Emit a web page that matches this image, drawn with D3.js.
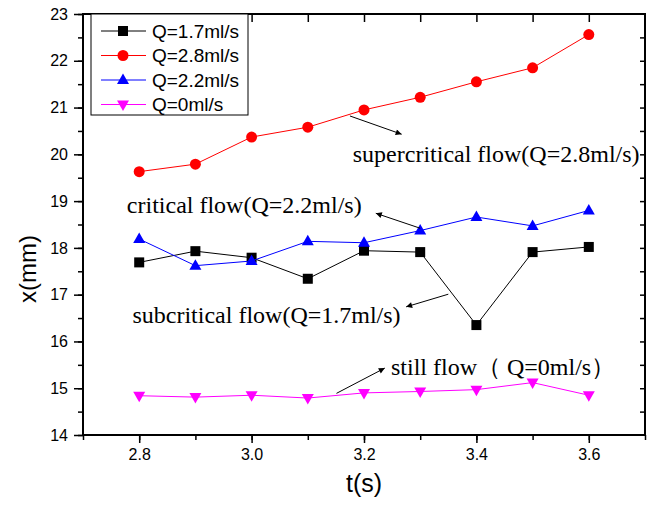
<!DOCTYPE html>
<html>
<head>
<meta charset="utf-8">
<script src="https://cdn.jsdelivr.net/npm/d3@7"></script>
<style>
  body { margin: 0; background: #fff; }
  svg { display: block; }
</style>
</head>
<body>
<svg id="chart" width="655" height="506"></svg>
<script>
// time axis (s)
const times = [2.8, 2.9, 3.0, 3.1, 3.2, 3.3, 3.4, 3.5, 3.6];

// x(mm) per flow rate
const q17 = [17.69, 17.93, 17.79, 17.34, 17.94, 17.91, 16.35, 17.91, 18.02];
const q28 = [19.63, 19.79, 20.37, 20.58, 20.95, 21.22, 21.55, 21.85, 22.56];
const q22 = [18.19, 17.62, 17.72, 18.14, 18.11, 18.37, 18.66, 18.47, 18.80];
const q00 = [14.84, 14.81, 14.85, 14.79, 14.90, 14.93, 14.97, 15.12, 14.85];

const seriesNames = ["Q=1.7ml/s", "Q=2.8ml/s", "Q=2.2ml/s", "Q=0ml/s"];
const seriesColors = ["#000000", "#ff0000", "#0000ff", "#ff00ff"];
const seriesShapes = ["square", "circle", "up", "down"];

const xTickLabels = [2.8, 3.0, 3.2, 3.4, 3.6];
const yTickLabels = [14, 15, 16, 17, 18, 19, 20, 21, 22, 23];

// annotation labels and arrows, in data units [t, x]
const notes = [
  { text: "supercritical flow(Q=2.8ml/s)", at: [3.180, 19.83], from: [3.175, 20.82], to: [3.267, 20.43] },
  { text: "critical flow(Q=2.2ml/s)", at: [2.778, 18.75], from: [3.300, 18.42], to: [3.221, 18.74] },
  { text: "subcritical flow(Q=1.7ml/s)", at: [2.788, 16.40], from: [3.350, 17.01], to: [3.275, 16.74] },
  { text: "still flow\uFF08 Q=0ml/s\uFF09", at: [3.248, 15.28], from: [3.151, 14.89], to: [3.237, 15.43] }
];

const svg = d3.select("#chart");
const m = { left: 83, top: 14, right: 10, bottom: 71 };
const W = 655, H = 506;

const x = d3.scaleLinear().domain([2.7, 3.7]).range([m.left, W - m.right]);
const y = d3.scaleLinear().domain([14, 23]).range([H - m.bottom, m.top]);

const minorX = d3.range(27, 38).map(d => d / 10);
const minorY = d3.range(28, 47).map(d => d / 2);

const axisFont = "'Liberation Sans', Arial, sans-serif";

// bottom axis: minor then major ticks
svg.append("g")
  .attr("transform", `translate(0,${y(14)})`)
  .call(d3.axisBottom(x).tickValues(minorX).tickSize(5).tickFormat(""))
  .call(g => g.select(".domain").remove());
svg.append("g")
  .attr("transform", `translate(0,${y(14)})`)
  .call(d3.axisBottom(x).tickValues(xTickLabels).tickSize(8).tickPadding(6).tickFormat(d3.format(".1f")))
  .call(g => g.select(".domain").remove())
  .call(g => g.selectAll("text").attr("font-size", 16).attr("font-family", axisFont).attr("fill", "#000"));

// left axis
svg.append("g")
  .attr("transform", `translate(${x(2.7)},0)`)
  .call(d3.axisLeft(y).tickValues(minorY).tickSize(5).tickFormat(""))
  .call(g => g.select(".domain").remove());
svg.append("g")
  .attr("transform", `translate(${x(2.7)},0)`)
  .call(d3.axisLeft(y).tickValues(yTickLabels).tickSize(9).tickPadding(6).tickFormat(d3.format("d")))
  .call(g => g.select(".domain").remove())
  .call(g => g.selectAll("text").attr("font-size", 16).attr("font-family", axisFont).attr("fill", "#000"));

// top ticks point inward
svg.append("g")
  .attr("transform", `translate(0,${y(23)})`)
  .call(d3.axisBottom(x).tickValues(minorX.slice(1, -1)).tickSize(8).tickFormat(""))
  .call(g => g.select(".domain").remove());

// right ticks point inward
svg.append("g")
  .attr("transform", `translate(${x(3.7)},0)`)
  .call(d3.axisLeft(y).tickValues(minorY.slice(1, -1)).tickSize(5).tickFormat(""))
  .call(g => g.select(".domain").remove());

svg.selectAll(".tick line").attr("stroke", "#000").attr("stroke-width", 1.5);

// frame
svg.append("rect")
  .attr("x", x(2.7)).attr("y", y(23))
  .attr("width", x(3.7) - x(2.7)).attr("height", y(14) - y(23))
  .attr("fill", "none").attr("stroke", "#000").attr("stroke-width", 2);

// axis titles
svg.append("text")
  .attr("x", x(3.2)).attr("y", 492)
  .attr("text-anchor", "middle")
  .attr("font-family", axisFont).attr("font-size", 25)
  .text("t(s)");
svg.append("text")
  .attr("transform", `translate(36,${y(17.55)}) rotate(-90)`)
  .attr("text-anchor", "middle")
  .attr("font-family", axisFont).attr("font-size", 24)
  .text("x(mm)");

// marker drawing
function marker(sel, shape, color) {
  if (shape === "circle") {
    sel.append("circle").attr("r", 5.5).attr("fill", color);
  } else if (shape === "square") {
    sel.append("rect").attr("x", -5).attr("y", -5).attr("width", 10).attr("height", 10).attr("fill", color);
  } else if (shape === "up") {
    sel.append("path").attr("d", "M0,-6.5L6,4L-6,4Z").attr("fill", color);
  } else {
    sel.append("path").attr("d", "M0,6.5L6,-4L-6,-4Z").attr("fill", color);
  }
}

const allSeries = [q17, q28, q22, q00];
const line = d3.line().x((d, i) => x(times[i])).y(d => y(d));

allSeries.forEach((vals, k) => {
  svg.append("path")
    .datum(vals)
    .attr("d", line)
    .attr("fill", "none")
    .attr("stroke", seriesColors[k])
    .attr("stroke-width", 1);
  svg.append("g").selectAll("g")
    .data(vals)
    .join("g")
    .attr("transform", (d, i) => `translate(${x(times[i])},${y(d)})`)
    .each(function() { marker(d3.select(this), seriesShapes[k], seriesColors[k]); });
});

// legend
const leg = svg.append("g");
leg.append("rect")
  .attr("x", 91).attr("y", y(23))
  .attr("width", 157).attr("height", 101)
  .attr("fill", "#fff").attr("stroke", "#000").attr("stroke-width", 1);
seriesNames.forEach((name, k) => {
  const row = leg.append("g").attr("transform", `translate(0,${31 + k * 24.5})`);
  row.append("line").attr("x1", 101).attr("x2", 146).attr("stroke", seriesColors[k]).attr("stroke-width", 1);
  marker(row.append("g").attr("transform", "translate(123,0)"), seriesShapes[k], seriesColors[k]);
  row.append("text")
    .attr("x", 152).attr("dy", "0.36em")
    .attr("font-family", axisFont).attr("font-size", 19)
    .text(name);
});

// annotations with arrows
svg.append("defs").append("marker")
  .attr("id", "arrow")
  .attr("viewBox", "0 0 10 10")
  .attr("refX", 10).attr("refY", 5)
  .attr("markerWidth", 11).attr("markerHeight", 6)
  .attr("markerUnits", "userSpaceOnUse")
  .attr("orient", "auto")
  .append("path").attr("d", "M0,0L10,5L0,10Z").attr("fill", "#000");

notes.forEach(n => {
  svg.append("line")
    .attr("x1", x(n.from[0])).attr("y1", y(n.from[1]))
    .attr("x2", x(n.to[0])).attr("y2", y(n.to[1]))
    .attr("stroke", "#000").attr("stroke-width", 1)
    .attr("marker-end", "url(#arrow)");
  svg.append("text")
    .attr("x", x(n.at[0])).attr("y", y(n.at[1]))
    .attr("font-family", "'Liberation Serif', 'Times New Roman', serif")
    .attr("font-size", 24)
    .text(n.text);
});
</script>
</body>
</html>
